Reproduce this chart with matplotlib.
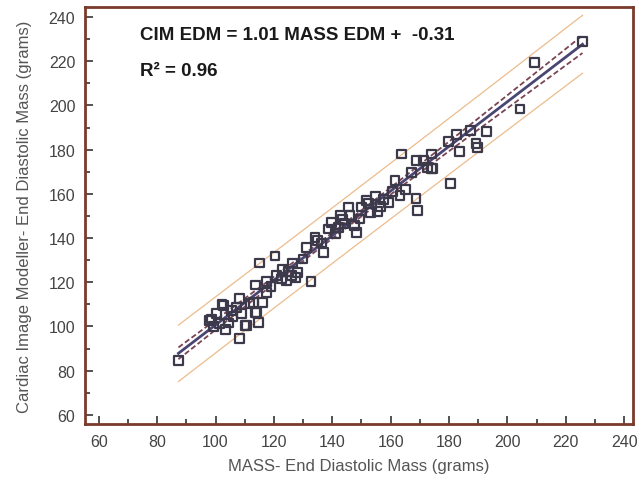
import numpy as np
import matplotlib.pyplot as plt
from matplotlib.ticker import MultipleLocator

# MASS end diastolic mass (x) vs CIM end diastolic mass (y), grams
mass_edm = [87.3, 97.9, 98.7, 99.3, 100.4, 101.3, 102.2, 102.7, 104.4, 105.6,
            107.3, 108.2, 108.2, 110.1, 110.5, 113.0, 113.6, 113.6, 114.1, 114.7,
            115.0, 116.2, 117.6, 117.6, 120.4, 121.0, 122.5, 124.4, 125.0, 126.1,
            126.5, 128.0, 130.0, 131.3, 132.7, 134.1, 136.4, 137.0, 138.7, 139.8,
            141.0, 142.1, 142.7, 144.0, 145.5, 146.1, 147.5, 148.4, 149.5, 150.1,
            151.8, 153.0, 154.7, 156.4, 157.5, 159.2, 161.5, 163.2, 163.8, 165.0,
            167.2, 168.7, 168.9, 169.1, 171.2, 172.5, 174.0, 174.0, 174.4, 179.8,
            180.6, 182.6, 183.5, 187.4, 189.2, 189.7, 192.7, 204.3, 209.2, 225.7,
            106.0, 109.0, 103.5, 111.8, 119.0, 123.0, 127.5, 135.0, 143.5, 152.5,
            155.5, 160.5]
cim_edm = [84.6, 102.6, 103.4, 100.1, 105.7, 101.2, 110.2, 109.4, 101.6, 107.2,
           108.7, 112.8, 94.5, 100.4, 100.4, 111.0, 118.8, 106.4, 106.4, 101.9,
           128.7, 111.0, 115.5, 120.5, 131.9, 123.2, 121.5, 120.7, 125.0, 123.0,
           128.7, 124.5, 130.5, 135.8, 120.2, 140.4, 137.8, 133.6, 144.1, 147.2,
           141.9, 144.9, 150.2, 146.5, 154.0, 150.2, 145.5, 142.6, 148.6, 154.0,
           157.0, 151.5, 159.0, 154.4, 157.5, 156.2, 166.0, 159.2, 178.0, 162.0,
           169.8, 158.0, 175.0, 152.3, 175.0, 172.0, 178.0, 171.6, 171.6, 183.8,
           164.5, 187.0, 179.0, 188.6, 182.6, 180.8, 188.1, 198.4, 219.5, 228.8,
           104.5, 106.0, 98.5, 110.5, 118.0, 126.0, 122.0, 139.0, 148.5, 155.5,
           152.0, 161.0]

slope, intercept = 1.01, -0.31

x = np.array(mass_edm)
y = np.array(cim_edm)
n = len(x)
resid = y - (slope * x + intercept)
s = np.sqrt(np.sum(resid ** 2) / (n - 2))
xx = np.linspace(x.min(), x.max(), 200)
fit = slope * xx + intercept
sxx = np.sum((x - x.mean()) ** 2)
ci = 1.99 * s * np.sqrt(1 / n + (xx - x.mean()) ** 2 / sxx)
pi = 1.99 * s * np.sqrt(1 + 1 / n + (xx - x.mean()) ** 2 / sxx)

plt.rcParams['font.family'] = ['Liberation Sans', 'DejaVu Sans']

fig = plt.figure(figsize=(6.39, 4.81), dpi=100)
ax = fig.add_axes([85 / 639, 1 - 425 / 481, (633 - 85) / 639, (425 - 8) / 481])

ax.plot(xx, fit + pi, color='#ecbc8c', lw=0.9)
ax.plot(xx, fit - pi, color='#ecbc8c', lw=0.9)
ax.plot(xx, fit + ci, color='#7a4452', lw=1.3, ls=(0, (3, 1.5)))
ax.plot(xx, fit - ci, color='#7a4452', lw=1.3, ls=(0, (3, 1.5)))
ax.plot(xx, fit, color='#4a4674', lw=2.0)
ax.scatter(x, y, marker='s', s=40, facecolors='none', edgecolors='#3c3a4a',
           linewidths=1.6, zorder=5)

ax.set_xlim(55.3, 243)
ax.set_ylim(55.9, 244.5)
ax.xaxis.set_major_locator(MultipleLocator(20))
ax.xaxis.set_minor_locator(MultipleLocator(10))
ax.yaxis.set_major_locator(MultipleLocator(20))
ax.yaxis.set_minor_locator(MultipleLocator(10))
ax.tick_params(which='both', direction='in', color='#444444', width=1.3,
               labelsize=11.5, labelcolor='#444444')
ax.tick_params(which='major', length=6, pad=7)
ax.tick_params(which='minor', length=3.5)
for sp in ax.spines.values():
    sp.set_color('#7a3a2c')
    sp.set_linewidth(2)

ax.set_xlabel('MASS- End Diastolic Mass (grams)', fontsize=12, color='#555555',
              labelpad=7)
ax.set_ylabel('Cardiac Image Modeller- End Diastolic Mass (grams)', fontsize=12,
              color='#555555', labelpad=12)

fig.text(140 / 639, 1 - 36 / 481, 'CIM EDM = 1.01 MASS EDM +  -0.31',
         fontsize=13.5, fontweight='bold', color='#1a1a1a', va='center',
         family=['Liberation Sans Narrow', 'Liberation Sans', 'DejaVu Sans'])
fig.text(140 / 639, 1 - 71 / 481, 'R\u00b2 = 0.96',
         fontsize=13.5, fontweight='bold', color='#1a1a1a', va='center',
         family=['Liberation Sans Narrow', 'Liberation Sans', 'DejaVu Sans'])

fig.savefig('out.png', dpi=100)
